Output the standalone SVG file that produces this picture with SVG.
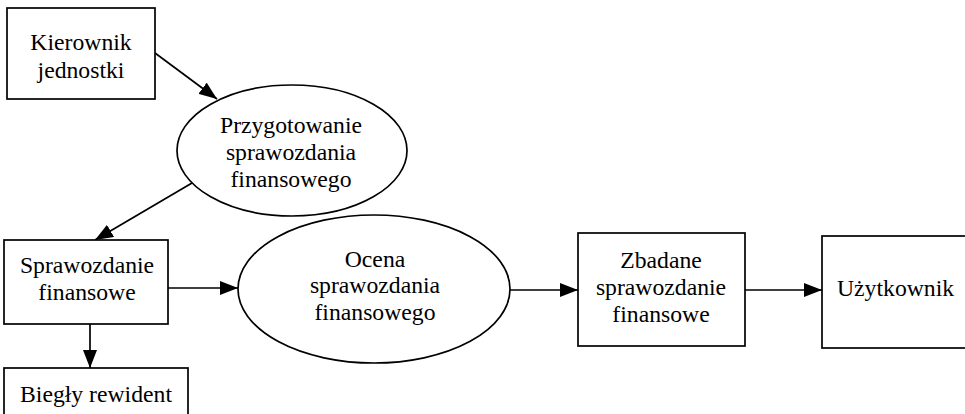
<svg xmlns="http://www.w3.org/2000/svg" width="965" height="414" viewBox="0 0 965 414" font-family="Liberation Serif, Times New Roman, serif">
<style>
.box{fill:#fff;stroke:#000;stroke-width:1.7}
.t{font-size:23.7px;fill:#000;text-anchor:middle}
.c{stroke:#000;stroke-width:1.7;fill:none;marker-end:url(#ah)}
</style>
<defs>
<marker id="ah" markerUnits="userSpaceOnUse" markerWidth="18" markerHeight="14" refX="18" refY="7" orient="auto">
<path d="M0,0 L18,7 L0,14 z" fill="#000"/>
</marker>
</defs>
<rect width="965" height="414" fill="#fff"/>
<g id="connectors">
<line class="c" x1="155" y1="53" x2="217" y2="99"/>
<line class="c" x1="192" y1="183" x2="95" y2="240"/>
<line class="c" x1="168" y1="288" x2="238" y2="288"/>
<line class="c" x1="90" y1="324" x2="90" y2="368"/>
<line class="c" x1="510" y1="290" x2="578" y2="290"/>
<line class="c" x1="745" y1="290" x2="822" y2="290"/>
</g>
<g id="kierownik">
<rect class="box" x="7" y="8" width="148" height="91"/>
<text class="t" x="81" y="50" font-family="Liberation Serif">Kierownik</text>
<text class="t" x="81" y="78" font-family="Liberation Serif">jednostki</text>
</g>
<g id="przygotowanie">
<ellipse class="box" cx="292" cy="150.5" rx="115" ry="65.5"/>
<text class="t" x="291" y="133">Przygotowanie</text>
<text class="t" x="291" y="160">sprawozdania</text>
<text class="t" x="291" y="187">finansowego</text>
</g>
<g id="sprawozdanie">
<rect class="box" x="4" y="240" width="164" height="84"/>
<text class="t" x="87" y="273">Sprawozdanie</text>
<text class="t" x="87" y="300">finansowe</text>
</g>
<g id="biegly">
<rect class="box" x="4" y="368" width="184" height="60"/>
<text class="t" x="96" y="402">Biegły rewident</text>
</g>
<g id="ocena">
<ellipse class="box" cx="374" cy="289" rx="136" ry="74"/>
<text class="t" x="375" y="267">Ocena</text>
<text class="t" x="375" y="293">sprawozdania</text>
<text class="t" x="375" y="320">finansowego</text>
</g>
<g id="zbadane">
<rect class="box" x="578" y="233" width="167" height="113"/>
<text class="t" x="661" y="268">Zbadane</text>
<text class="t" x="661" y="295">sprawozdanie</text>
<text class="t" x="661" y="322">finansowe</text>
</g>
<g id="uzytkownik">
<rect class="box" x="822" y="236" width="150" height="112"/>
<text class="t" x="837" y="296" style="text-anchor:start">Użytkownik</text>
</g>
</svg>
